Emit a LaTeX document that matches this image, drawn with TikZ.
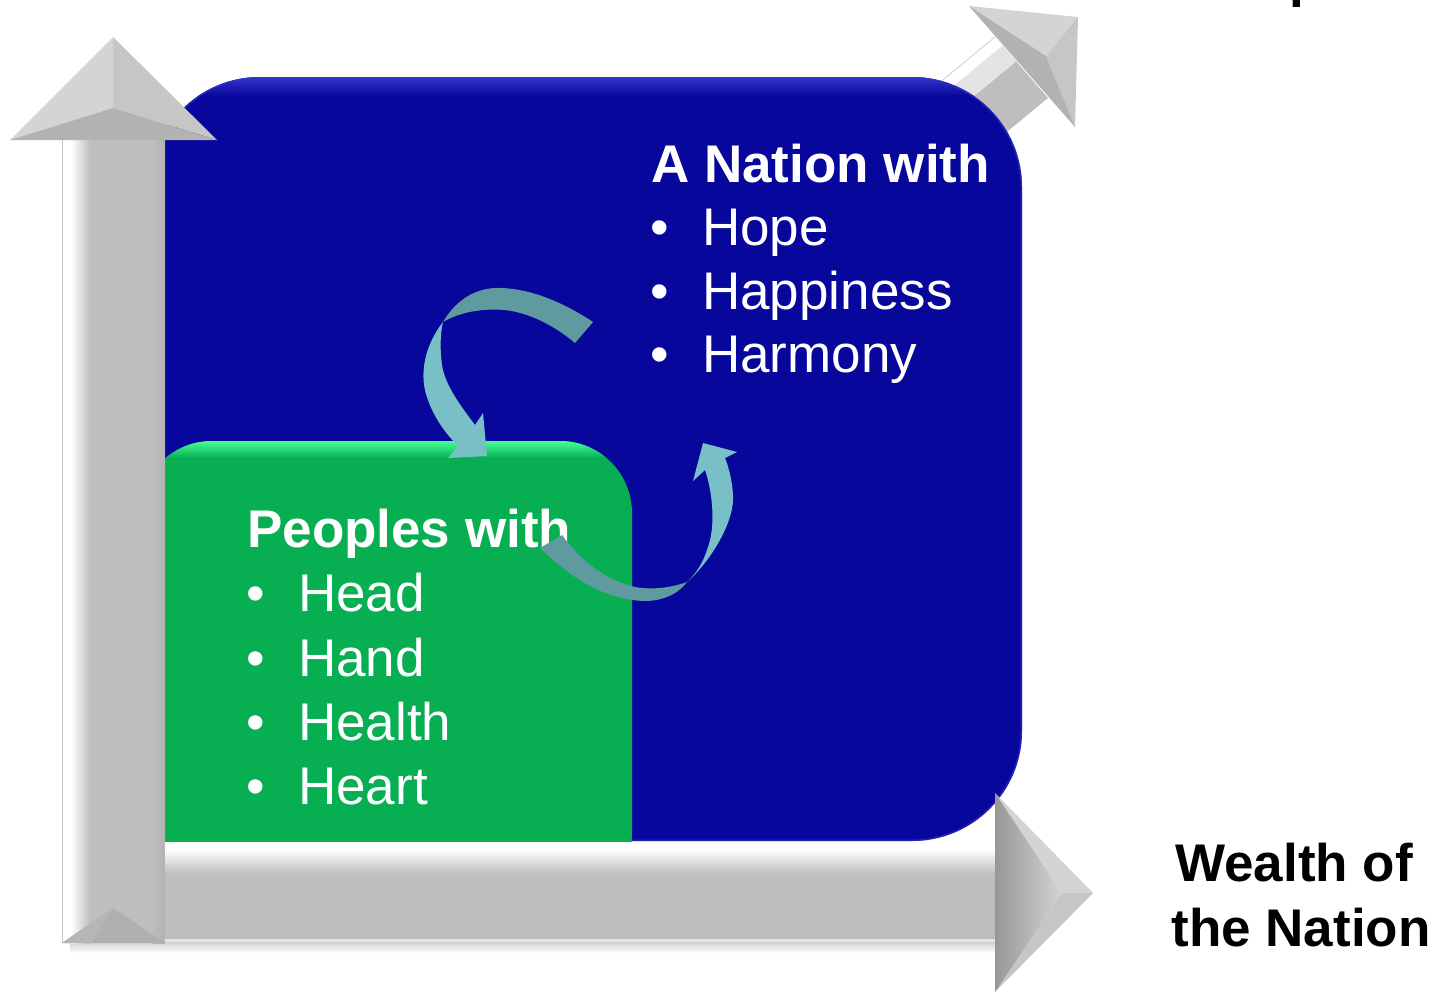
\documentclass[tikz,border=0pt]{standalone}
\usepackage{fontspec}
\setmainfont{Liberation Sans}
\usetikzlibrary{calc}
\definecolor{navy}{HTML}{07079B}
\definecolor{navylt}{HTML}{3434CC}
\definecolor{grn}{HTML}{08AE52}
\definecolor{grnlt}{HTML}{45FF95}
\definecolor{tealdk}{HTML}{5E9A9E}
\definecolor{teallt}{HTML}{78C0C6}
\definecolor{gshaft}{HTML}{BEBEBE}
\definecolor{gface}{HTML}{D4D4D4}
\definecolor{gside}{HTML}{C6C6C6}
\definecolor{gdark}{HTML}{B2B2B2}
\definecolor{glight}{HTML}{E4E4E4}
\begin{document}
\begin{tikzpicture}[x=1pt,y=-1pt,
  ttl/.style={font=\fontsize{53pt}{64pt}\selectfont\bfseries, text=white, inner sep=0pt, anchor=base west},
  itm/.style={font=\fontsize{53pt}{64pt}\selectfont, text=white, inner sep=0pt, anchor=base west},
  bul/.style={font=\fontsize{53pt}{64pt}\selectfont, text=white, inner sep=0pt, anchor=base},
  axl/.style={font=\fontsize{53pt}{64pt}\selectfont\bfseries, text=black, inner sep=0pt, anchor=base},
  ribdk/.style={fill=tealdk},
  riblt/.style={fill=teallt}]
\useasboundingbox (0,0) rectangle (1439,994);
\clip (0,0) rectangle (1439,994);

% cut-off text at top
\node[axl, anchor=base west] (topp) at (1289,-4) {p};

% ---------- diagonal arrow (behind the blue box)
\coordinate (u1) at (995,37);
\coordinate (u2) at (933,88);
\coordinate (l1) at (1048,98);
\coordinate (l2) at (986,149);
\fill[gshaft] (u1) -- (l1) -- (l2) -- (u2) -- cycle;
\fill[glight] ($(u1)!0.12!(l1)$) -- ($(u1)!0.40!(l1)$) -- ($(u2)!0.40!(l2)$) -- ($(u2)!0.12!(l2)$) -- cycle;
\fill[white] (u1) -- ($(u1)!0.14!(l1)$) -- ($(u2)!0.14!(l2)$) -- (u2) -- cycle;
\draw[glight!80!gray, line width=0.8pt] (u1) -- (u2);
\coordinate (da) at (969,6);
\coordinate (dt) at (1078,17);
\coordinate (db) at (1075,127);
\coordinate (dc) at (1046,56);
\fill[gface] (da) -- (dt) -- (dc) -- cycle;
\fill[gside] (dt) -- (db) -- (dc) -- cycle;
\fill[gdark] (da) -- (dc) -- (db) -- cycle;

% ---------- blue box
\fill[navy, rounded corners=110pt] (150,77) rectangle (1022,841);
\begin{scope}
  \clip[rounded corners=110pt] (150,77) rectangle (1022,841);
  \shade[top color=navylt, bottom color=navy] (150,77) rectangle (1022,96);
  \draw[navylt, line width=3pt, opacity=0.6, rounded corners=110pt] (150,77) rectangle (1022,841);
\end{scope}

% ---------- green box
\fill[grn, rounded corners=72pt] (140,441) rectangle (632,905);
\begin{scope}
  \clip[rounded corners=72pt] (140,441) rectangle (632,905);
  \shade[top color=grnlt, bottom color=grn] (140,441) rectangle (632,458);
\end{scope}

% ---------- shadow under horizontal arrow
\shade[top color=black!18, bottom color=white] (70,942) rectangle (1000,953);

% ---------- vertical arrow
\fill[gshaft] (62,140) rectangle (165,943);
\fill[white] (62,140) rectangle (71,943);
\shade[left color=white, right color=gshaft] (71,140) rectangle (90,943);
\draw[glight!70!gray, line width=0.8pt] (62,140) -- (62,943);
\shade[left color=gshaft, right color=gdark] (152,140) rectangle (165,943);
\fill[gshaft!92!black] (62,943) -- (113,908) -- (165,943) -- cycle;
\fill[gshaft!96!black] (62,943) -- (113,908) -- (92,943) -- cycle;
\coordinate (va) at (10,140);
\coordinate (vt) at (113,37);
\coordinate (vb) at (217,140);
\coordinate (vc) at (113,108);
\fill[gface] (va) -- (vt) -- (vc) -- cycle;
\fill[gside] (vt) -- (vb) -- (vc) -- cycle;
\fill[gdark] (va) -- (vc) -- (vb) -- cycle;

% ---------- horizontal arrow
\fill[gshaft] (165,842) rectangle (995,942);
\fill[white] (165,842) rectangle (995,849);
\shade[top color=white, bottom color=gshaft] (165,849) rectangle (995,874);
\fill[glight] (165,939) rectangle (995,942);
\coordinate (ha) at (995,793);
\coordinate (ht) at (1093,893);
\coordinate (hb) at (995,992);
\coordinate (hc) at (1062,893);
\fill[gface] (ha) -- (ht) -- (hc) -- cycle;
\fill[gside] (ht) -- (hb) -- (hc) -- cycle;
\shade[left color=gdark!85!black, right color=gface] (ha) -- (hc) -- (hb) -- cycle;

% ---------- texts: nation
\node[ttl] (nat) at (651,182) {A Nation with};
\node[bul] (b1) at (660,245.5) {•};
\node[itm] (hope) at (702,245.5) {Hope};
\node[bul] (b2) at (660,309) {•};
\node[itm] (happ) at (702,309) {Happiness};
\node[bul] (b3) at (660,372.5) {•};
\node[itm] (harm) at (702,372.5) {Harmony};

% ---------- texts: peoples
\node[ttl] (peo) at (247,547) {Peoples with};
\node[bul] (c1) at (256,611.5) {•};
\node[itm] (hd) at (298,611.5) {Head};
\node[bul] (c2) at (256,676) {•};
\node[itm] (hn) at (298,676) {Hand};
\node[bul] (c3) at (256,740) {•};
\node[itm] (hl) at (298,740) {Health};
\node[bul] (c4) at (256,804) {•};
\node[itm] (ht2) at (298,804) {Heart};

% ---------- axis label
\node[axl] (w1) at (1294,881) {Wealth of};
\node[axl] (w2) at (1301,946) {the Nation};

% ---------- upper curved arrow
\fill[ribdk] (593,322) .. controls (560,300) and (525,287) .. (495,288)
  .. controls (472,289) and (454,303) .. (443,322)
  .. controls (458,313) and (480,308) .. (505,310)
  .. controls (530,313) and (555,326) .. (575,343) -- cycle;
\fill[riblt] (443,322) .. controls (425,345) and (418,375) .. (428,400)
  .. controls (435,420) and (448,436) .. (458,446)
  -- (448,458) -- (487,456) -- (483,413) -- (475,425)
  .. controls (460,405) and (445,385) .. (442,365)
  .. controls (440,350) and (440,335) .. (443,322) -- cycle;

% ---------- lower curved arrow
\fill[ribdk] (540,548) .. controls (565,572) and (600,600) .. (645,601)
  .. controls (665,601) and (680,592) .. (687,582)
  .. controls (670,588) and (652,590) .. (635,587)
  .. controls (605,580) and (580,560) .. (562,535) -- cycle;
\fill[riblt] (687,582) .. controls (712,560) and (735,520) .. (733,495)
  .. controls (732,480) and (729,468) .. (725,458)
  -- (737,452) -- (703,443) -- (693,481) -- (705,470)
  .. controls (712,490) and (715,520) .. (710,540)
  .. controls (705,560) and (697,573) .. (687,582) -- cycle;
\end{tikzpicture}
\end{document}
